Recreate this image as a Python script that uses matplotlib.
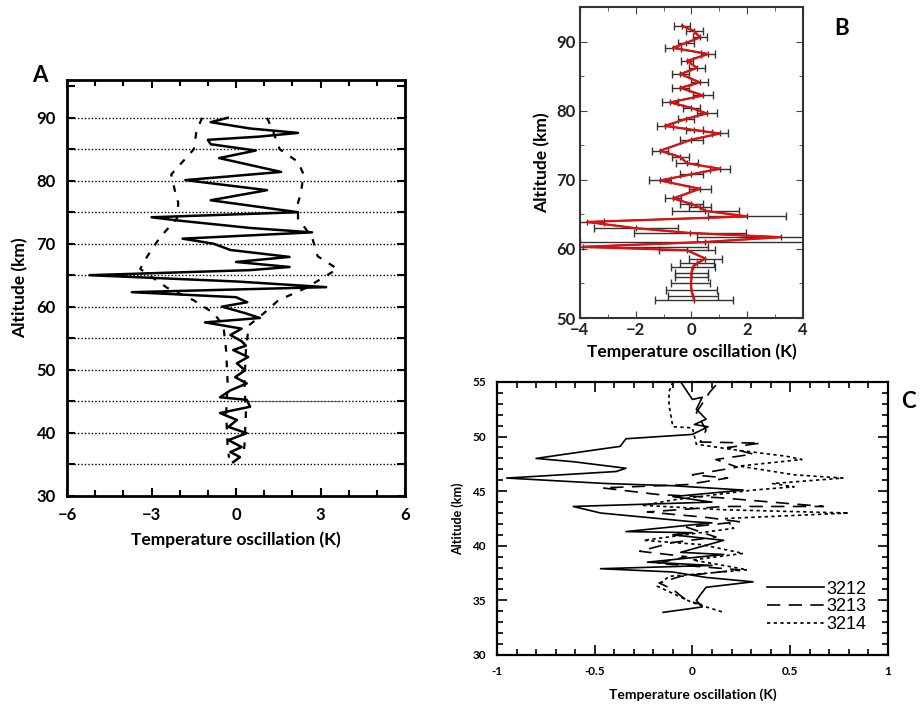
import matplotlib
matplotlib.use("Agg")
import matplotlib.pyplot as plt
from matplotlib.ticker import MultipleLocator
import numpy as np

plt.rcParams['font.family'] = ['Lato', 'DejaVu Sans']

# ---- panel A: lidar profile + dashed envelope
a_alt = [90.0, 89.3, 88.3, 87.6, 87.0, 86.5, 85.8, 84.8, 83.6, 82.5, 81.4, 80.1,
         78.5, 76.9, 75.0, 74.2, 73.7, 72.5, 71.8, 70.8, 70.0, 69.0, 67.9, 67.1,
         66.3, 65.8, 65.0, 64.0, 63.1, 62.3, 61.5, 60.7, 60.0, 59.0, 58.2, 57.5,
         56.5, 55.5, 54.5, 53.8, 53.1, 52.0, 51.0, 49.9, 48.8, 47.8, 46.7, 45.6,
         45.2, 44.1, 43.1, 42.0, 40.9, 39.9, 38.8, 37.7, 36.9, 36.1, 35.3]
a_temp = [-0.3, -0.9, 0.5, 2.2, 0.8, -1.0, -0.9, 0.7, -0.6, 0.5, 1.6, -1.8,
          1.1, -0.9, 2.2, -3.0, -2.1, 0.5, 2.7, -1.9, -0.8, -0.2, 1.9, 0.0,
          1.9, 0.5, -5.2, 0.0, 3.2, -3.7, 0.0, 0.4, -0.5, 0.3, 0.85, -1.1,
          0.2, -0.2, 0.2, 0.35, -0.1, 0.43, 0.03, 0.32, -0.03, 0.38, -0.2, -0.57,
          0.38, 0.5, -0.57, 0.03, -0.27, 0.38, -0.27, 0.2, -0.2, 0.14, -0.1]

env_alt = [90, 88, 85, 83, 81, 78, 76.5, 74, 71, 68, 66, 63, 61, 59, 57, 53, 48, 43, 38, 36]
env_left = [-1.2, -1.4, -1.5, -1.9, -2.3, -2.15, -2.05, -2.1, -2.7, -3.15, -3.4, -2.45,
            -1.5, -0.8, -0.45, -0.35, -0.3, -0.35, -0.3, -0.25]
env_right = [1.1, 1.3, 1.55, 2.2, 2.4, 2.3, 2.2, 2.2, 2.7, 2.9, 3.6, 2.5,
             1.5, 1.0, 0.45, 0.35, 0.3, 0.35, 0.3, 0.25]

grid_alt = [35, 40, 45, 50, 55, 60, 65, 70, 75, 80, 85, 90]
seg_x = [0.3, 3.7]
seg_alt = [45, 45]

# ---- panel B: profile with error bars
b_alt = [92.3, 91.5, 90.6, 89.8, 89.1, 88.2, 87.2, 86.2, 85.3, 84.1, 83.3, 82.2,
         81.2, 80.4, 79.6, 78.8, 77.8, 77.2, 76.7, 75.8, 74.2, 73.3, 72.4, 71.6,
         70.8, 69.9, 68.7, 67.3, 66.5, 66.0, 65.5, 64.7, 63.9, 63.0, 62.3, 61.7,
         61.0, 60.3, 59.8, 58.6, 57.9, 57.4, 56.5, 55.9, 55.0, 54.0, 53.2, 52.6]
b_temp = [-0.34, 0.1, 0.3, -0.2, -0.66, 0.6, -0.16, 0.2, -0.4, 0.3, -0.4, 0.42,
          -0.77, 0.0, 0.55, -0.2, -0.95, 0.1, 1.02, 0.0, -1.13, -0.4, -0.16, 1.02,
          0.0, -1.13, 0.3, -0.66, 0.0, 0.3, 0.5, 2.0, -3.75, -2.0, -0.05, 3.2,
          0.5, -3.9, -0.16, 0.5, 0.2, 0.05, 0.0, 0.0, -0.02, 0.0, 0.05, 0.1]
b_err = [0.3, 0.3, 0.25, 0.3, 0.3, 0.25, 0.2, 0.3, 0.3, 0.3, 0.3, 0.35,
         0.3, 0.3, 0.35, 0.3, 0.3, 0.3, 0.3, 0.4, 0.3, 0.3, 0.4, 0.35,
         0.4, 0.4, 0.4, 0.3, 0.4, 0.4, 1.2, 1.4, 0.6, 1.5, 2.0, 3.0,
         4.5, 4.5, 1.0, 0.6, 0.6, 0.8, 0.6, 0.6, 0.7, 0.9, 0.9, 1.4]

# ---- panel C: three soundings
c1_alt = [55.0, 53.4, 53.6, 52.5, 51.6, 51.1, 50.9, 50.2, 49.8, 49.1, 48.8, 48.0,
          47.7, 47.1, 46.8, 46.2, 45.7, 45.5, 45.1, 44.5, 44.0, 43.6, 43.0, 42.2,
          42.1, 41.3, 41.2, 41.0, 40.5, 39.4, 39.2, 38.5, 38.2, 37.9, 37.6, 37.1,
          36.7, 36.2, 35.5, 35.0, 34.4, 33.9]
c1_temp = [-0.06, 0.0, 0.05, 0.02, 0.07, 0.01, 0.08, 0.0, -0.34, -0.37, -0.49, -0.8,
           -0.61, -0.34, -0.39, -0.95, -0.44, -0.1, 0.26, -0.1, 0.1, -0.61, -0.47, 0.0,
           0.1, -0.34, 0.0, -0.1, 0.16, -0.06, 0.16, -0.23, 0.1, -0.47, -0.1, 0.07,
           0.31, 0.07, 0.04, 0.02, 0.05, -0.15]

c2_alt = [54.7, 54.1, 52.2, 50.6, 49.5, 49.4, 49.0, 48.4, 47.9, 47.2, 46.5, 46.2,
          45.6, 45.3, 44.7, 44.4, 43.6, 43.6, 43.1, 42.6, 42.2, 41.7, 40.8, 40.3,
          39.5, 39.0, 38.4, 37.8, 37.2, 36.6, 36.0, 35.0, 34.6]
c2_temp = [0.12, 0.09, 0.02, 0.07, 0.04, 0.35, 0.18, 0.31, 0.12, 0.23, 0.0, 0.18,
           -0.03, -0.46, -0.18, 0.14, 0.67, 0.16, -0.23, 0.07, 0.24, -0.03, 0.12, -0.1,
           -0.27, -0.03, -0.18, 0.24, -0.06, -0.17, -0.1, -0.03, 0.05]

c3_alt = [55.0, 54.1, 52.9, 50.9, 50.8, 49.3, 48.8, 48.2, 47.9, 47.3, 46.5, 46.2,
          45.7, 45.4, 45.1, 44.2, 43.7, 43.3, 43.0, 42.5, 41.6, 40.5, 40.1, 39.3,
          38.7, 38.1, 37.8, 37.2, 36.3, 35.3, 34.8, 33.9]
c3_temp = [-0.1, -0.12, -0.12, -0.1, 0.0, 0.02, 0.21, 0.48, 0.56, 0.24, 0.52, 0.77,
           0.41, 0.52, 0.31, -0.1, -0.25, 0.16, 0.8, 0.17, 0.21, -0.25, 0.05, 0.26,
           0.0, 0.19, 0.28, -0.12, -0.18, -0.06, 0.0, 0.16]
c_names = ['3212', '3213', '3214']

fig = plt.figure(figsize=(9.22, 7.10), dpi=100)

# ---------------- A
axA = fig.add_axes([0.0727, 0.3021, 0.3666, 0.5852])
for g in grid_alt:
    axA.axhline(g, color='black', lw=1.0, ls=(0, (1, 1.5)), zorder=1)
axA.plot(seg_x, seg_alt, color='#555555', lw=0.6)
axA.plot(env_left, env_alt, color='black', lw=1.6, ls=(0, (3, 4)))
axA.plot(env_right, env_alt, color='black', lw=1.6, ls=(0, (3, 4)))
axA.plot(a_temp, a_alt, color='black', lw=1.8)
axA.set_xlim(-6, 6)
axA.set_ylim(30, 96)
axA.xaxis.set_major_locator(MultipleLocator(3))
axA.xaxis.set_minor_locator(MultipleLocator(1))
axA.yaxis.set_major_locator(MultipleLocator(10))
axA.yaxis.set_minor_locator(MultipleLocator(5))
axA.tick_params(which='both', direction='in', top=True, right=True, width=1.5)
axA.tick_params(which='major', length=6, labelsize=12, pad=8)
axA.tick_params(axis='x', which='minor', length=4)
axA.tick_params(axis='y', which='minor', length=6)
for lab in axA.get_xticklabels() + axA.get_yticklabels():
    lab.set_fontweight('bold')
for s in axA.spines.values():
    s.set_linewidth(2)
axA.set_xlabel('Temperature oscillation (K)', fontsize=12.5, fontweight='bold', labelpad=6)
axA.set_ylabel('Altitude (km)', fontsize=12.5, fontweight='bold', labelpad=6)

# ---------------- B
axB = fig.add_axes([0.629, 0.5521, 0.2419, 0.438])
axB.errorbar(b_temp, b_alt, xerr=b_err, color='#333333', lw=1.2, elinewidth=1.0,
             capsize=3, marker='|', ms=5, zorder=2)
axB.plot(b_temp, b_alt, color='#e01010', lw=1.6, zorder=3)
axB.set_xlim(-4, 4)
axB.set_ylim(50, 95)
axB.xaxis.set_major_locator(MultipleLocator(2))
axB.xaxis.set_minor_locator(MultipleLocator(1))
axB.yaxis.set_major_locator(MultipleLocator(10))
axB.yaxis.set_minor_locator(MultipleLocator(5))
axB.tick_params(which='both', direction='in', top=True, right=True, color='#444444')
axB.tick_params(which='major', length=5, labelsize=12, pad=3)
axB.tick_params(which='minor', length=3)
for lab in axB.get_xticklabels() + axB.get_yticklabels():
    lab.set_fontweight('bold')
    lab.set_color('#222222')
for s in axB.spines.values():
    s.set_linewidth(1.5)
    s.set_color('#333333')
axB.set_xlabel('Temperature oscillation (K)', fontsize=12.5, fontweight='bold', labelpad=4)
axB.set_ylabel('Altitude (km)', fontsize=12.5, fontweight='bold', labelpad=4)

# ---------------- C
axC = fig.add_axes([0.539, 0.0775, 0.424, 0.3845])
axC.plot(c1_temp, c1_alt, color='black', lw=1.2, ls='-', label=c_names[0])
axC.plot(c2_temp, c2_alt, color='black', lw=1.2, ls=(0, (8, 5)), label=c_names[1])
axC.plot(c3_temp, c3_alt, color='black', lw=1.2, ls=(0, (2, 2)), label=c_names[2])
axC.set_xlim(-1, 1)
axC.set_ylim(30, 55)
axC.xaxis.set_major_locator(MultipleLocator(0.5))
axC.xaxis.set_minor_locator(MultipleLocator(0.1))
axC.yaxis.set_major_locator(MultipleLocator(5))
axC.yaxis.set_minor_locator(MultipleLocator(1))
axC.tick_params(which='both', direction='in', top=True, right=True, width=1.2)
axC.tick_params(which='major', length=7, labelsize=8.5, pad=8)
axC.tick_params(which='minor', length=4)
axC.set_xticks([-1, -0.5, 0, 0.5, 1])
axC.set_xticklabels(['-1', '-0.5', '0', '0.5', '1'])
for lab in axC.get_xticklabels() + axC.get_yticklabels():
    lab.set_fontweight('bold')
for s in axC.spines.values():
    s.set_linewidth(1.6)
axC.set_xlabel('Temperature oscillation (K)', fontsize=10, fontweight='bold', labelpad=8)
axC.set_ylabel('Altitude (km)', fontsize=9, fontweight='bold', labelpad=6)
leg = axC.legend(loc='lower right', frameon=False, fontsize=13, handlelength=3.2,
                 handletextpad=0.1, labelspacing=0.05, borderaxespad=0.8,
                 prop={'family': ['Liberation Sans'], 'size': 13})

# panel letters
fig.text(0.043, 0.893, 'A', fontsize=16, fontweight='bold', ha='center', va='center')
fig.text(0.913, 0.960, 'B', fontsize=16, fontweight='bold', ha='center', va='center')
fig.text(0.985, 0.434, 'C', fontsize=16, fontweight='bold', ha='center', va='center')

fig.savefig('out.png', dpi=100)
